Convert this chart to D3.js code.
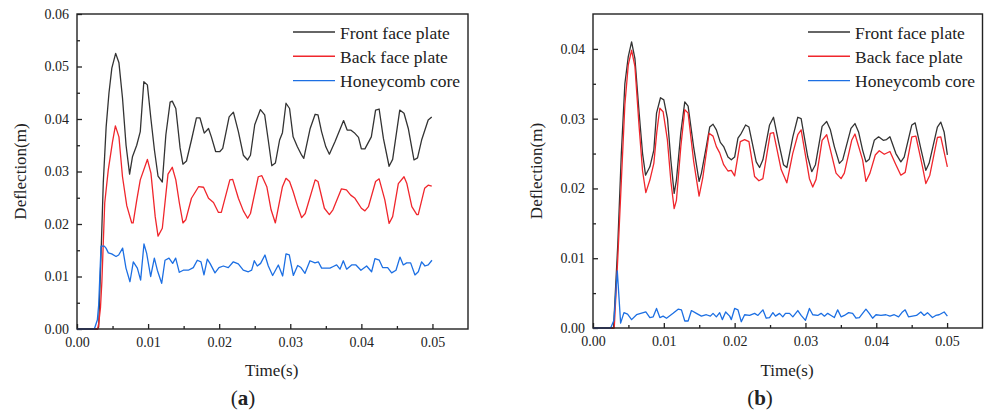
<!DOCTYPE html>
<html>
<head>
<meta charset="utf-8">
<script src="https://cdn.jsdelivr.net/npm/d3@7"></script>
<style>
  body { margin: 0; background: #fff; }
  text { font-family: "Liberation Serif", "DejaVu Serif", serif; fill: #222; }
</style>
</head>
<body>
<svg id="chart" width="984" height="416"></svg>
<script>
// time in ms, deflection in m
var frontA = [[0,0],[2.9,0],[3.05,0.0004],[3.4,0.015],[3.7,0.028],[4.1,0.0385],[4.5,0.045],[4.9,0.0497],[5.44,0.0525],[5.9,0.0507],[6.4,0.044],[6.9,0.035],[7.4,0.0295],[7.8,0.0328],[8.4,0.035],[8.9,0.0376],[9.4,0.0471],[9.9,0.0465],[10.4,0.040],[10.9,0.034],[11.4,0.0291],[12.0,0.028],[12.5,0.037],[13.1,0.0432],[13.4,0.0434],[13.9,0.042],[14.5,0.0345],[14.9,0.0314],[15.4,0.032],[16.1,0.036],[16.8,0.0402],[17.3,0.0402],[17.9,0.0373],[18.5,0.0382],[18.9,0.0366],[19.5,0.0338],[20.1,0.0338],[20.5,0.0344],[21.4,0.0404],[22.0,0.0413],[22.7,0.0376],[23.4,0.0331],[24.0,0.0322],[24.4,0.0331],[25.0,0.0389],[25.8,0.0418],[26.4,0.0408],[26.9,0.036],[27.4,0.0311],[27.9,0.0316],[28.5,0.036],[28.9,0.0374],[29.4,0.043],[29.9,0.042],[30.4,0.0366],[31.0,0.0347],[31.6,0.0331],[31.9,0.0325],[32.8,0.0382],[33.5,0.0409],[33.9,0.0408],[34.4,0.0376],[35.0,0.0347],[35.5,0.0333],[36.3,0.0357],[37.5,0.0397],[38.0,0.0379],[38.5,0.0379],[39.0,0.0374],[39.6,0.0365],[40.0,0.0343],[40.5,0.0343],[41.4,0.0366],[42.0,0.0417],[42.5,0.0419],[43.1,0.0363],[43.9,0.031],[44.4,0.0323],[45.4,0.0417],[46.0,0.0411],[46.6,0.0382],[47.4,0.0322],[47.9,0.0326],[48.5,0.0361],[49.4,0.0398],[49.9,0.0404]]

var backA = [[0,0],[2.9,0],[3.05,0.001],[3.3,0.004],[3.5,0.009],[3.9,0.024],[4.4,0.0303],[5.0,0.0357],[5.4,0.0387],[5.9,0.0366],[6.4,0.029],[7.0,0.0235],[7.7,0.0202],[7.9,0.0202],[8.4,0.0245],[8.9,0.0284],[9.9,0.0323],[10.4,0.0297],[11.0,0.0214],[11.4,0.0177],[12.0,0.0192],[12.8,0.0295],[13.4,0.0308],[13.9,0.0284],[14.4,0.024],[14.9,0.0202],[15.3,0.0208],[16.1,0.0249],[17.1,0.0271],[17.8,0.027],[18.5,0.0249],[19.2,0.0241],[19.9,0.0222],[20.3,0.0222],[21.5,0.0284],[21.9,0.0285],[22.7,0.0249],[23.4,0.0225],[24.0,0.0211],[24.4,0.022],[25.5,0.029],[26.0,0.0292],[26.7,0.0271],[27.3,0.0227],[27.9,0.0202],[28.9,0.0271],[29.4,0.0287],[29.9,0.0281],[30.4,0.0262],[31.0,0.0235],[31.6,0.0212],[32.1,0.022],[33.5,0.0284],[33.9,0.0281],[34.8,0.023],[35.5,0.0218],[36.0,0.0227],[37.2,0.0267],[37.9,0.0265],[38.5,0.0255],[39.1,0.0249],[40.0,0.023],[40.5,0.0225],[41.0,0.0233],[42.0,0.0281],[42.5,0.0286],[43.3,0.0246],[43.9,0.0201],[44.4,0.0214],[45.2,0.0277],[46.0,0.029],[46.4,0.0277],[47.1,0.0233],[47.8,0.0218],[48.0,0.0218],[48.9,0.0268],[49.4,0.0274],[49.9,0.0272]]

var coreA = [[0,0],[2.44,0],[2.86,0.0017],[3.05,0.0046],[3.38,0.0158],[3.84,0.0158],[4.08,0.0154],[4.41,0.0145],[4.88,0.0143],[5.49,0.0138],[5.86,0.0141],[6.42,0.0154],[6.89,0.0116],[7.45,0.009],[7.92,0.0128],[8.49,0.0116],[8.95,0.0093],[9.42,0.0162],[9.8,0.0144],[10.36,0.01],[10.88,0.0135],[11.3,0.0112],[11.91,0.0087],[12.38,0.0131],[12.94,0.0135],[13.46,0.0125],[13.88,0.0135],[14.39,0.0108],[14.95,0.0112],[15.66,0.0112],[16.36,0.0117],[16.92,0.0131],[17.44,0.0128],[17.86,0.0103],[18.33,0.0133],[18.71,0.0125],[19.41,0.0107],[19.97,0.0117],[20.58,0.012],[21.28,0.0117],[21.99,0.0128],[22.69,0.0124],[23.39,0.0112],[24.1,0.0109],[24.57,0.0112],[24.94,0.013],[25.36,0.012],[25.83,0.0125],[26.44,0.0141],[26.91,0.012],[27.52,0.0102],[28.32,0.0122],[28.93,0.0101],[29.4,0.0143],[29.86,0.0141],[30.43,0.0102],[31.04,0.0121],[31.5,0.0117],[32.07,0.0106],[32.77,0.013],[33.47,0.0126],[33.94,0.0128],[34.41,0.0116],[35.58,0.0116],[36.05,0.0119],[36.52,0.0122],[36.99,0.0114],[37.46,0.013],[37.93,0.0114],[38.63,0.0122],[39.24,0.0122],[39.94,0.0112],[40.74,0.012],[41.44,0.0109],[41.91,0.0134],[42.52,0.0131],[42.99,0.0117],[43.7,0.0117],[44.26,0.0107],[44.87,0.0112],[45.43,0.0137],[45.9,0.0122],[46.37,0.0126],[46.93,0.0126],[47.54,0.0103],[48.01,0.0109],[48.48,0.0128],[48.95,0.012],[49.41,0.0122],[49.93,0.0131]]

var frontB = [[0,0],[2.9,0],[3.5,0.012],[4.0,0.025],[4.5,0.035],[4.98,0.0389],[5.45,0.041],[5.92,0.0386],[6.5,0.031],[7.0,0.025],[7.42,0.0219],[8.03,0.0231],[8.59,0.0255],[8.97,0.0308],[9.53,0.033],[10.0,0.0327],[10.52,0.030],[11.0,0.024],[11.46,0.0193],[11.78,0.0212],[12.4,0.028],[12.96,0.0324],[13.43,0.0318],[14.2,0.026],[14.98,0.021],[15.31,0.0222],[16.0,0.026],[16.48,0.0288],[16.95,0.0292],[17.42,0.0284],[17.98,0.0266],[18.45,0.026],[19.06,0.0245],[19.53,0.0241],[20.0,0.0245],[20.47,0.0272],[20.94,0.0279],[21.55,0.0291],[22.02,0.0288],[23.05,0.0238],[23.52,0.023],[23.99,0.0241],[24.93,0.0291],[25.49,0.0302],[26.24,0.0265],[26.9,0.0234],[27.37,0.023],[28.22,0.0274],[28.92,0.0302],[29.39,0.030],[30.33,0.0245],[30.89,0.0224],[31.41,0.0234],[32.35,0.0289],[33.0,0.0296],[33.52,0.0284],[34.08,0.026],[34.79,0.0236],[35.26,0.0241],[36.43,0.0286],[36.99,0.0293],[37.5,0.0281],[38.07,0.0255],[38.54,0.0238],[39.01,0.0242],[39.72,0.0269],[40.33,0.0274],[40.99,0.0269],[41.45,0.027],[41.93,0.0274],[42.77,0.025],[43.47,0.0238],[43.94,0.0245],[45.02,0.0291],[45.49,0.0294],[46.29,0.0257],[47.0,0.0226],[47.46,0.0236],[48.63,0.0288],[49.11,0.0295],[49.58,0.0281],[50.04,0.0248]]

var backB = [[0,0],[3.0,0],[3.5,0.01],[4.0,0.021],[4.5,0.032],[4.98,0.0377],[5.45,0.0398],[5.92,0.0375],[6.5,0.029],[7.0,0.0225],[7.46,0.0194],[8.03,0.0212],[8.59,0.0236],[9.0,0.028],[9.44,0.0315],[9.9,0.031],[10.5,0.027],[11.0,0.021],[11.46,0.0171],[11.78,0.0183],[12.4,0.026],[12.96,0.0313],[13.43,0.0308],[14.2,0.024],[14.98,0.0189],[15.5,0.0215],[16.39,0.0279],[16.95,0.0275],[17.42,0.026],[17.89,0.0251],[18.45,0.0234],[19.06,0.0225],[19.53,0.0226],[20.0,0.0218],[20.8,0.0267],[21.41,0.027],[22.02,0.0267],[22.82,0.0217],[23.43,0.0211],[23.99,0.0214],[25.03,0.0279],[25.49,0.028],[26.57,0.0227],[27.37,0.0208],[28.2,0.025],[28.92,0.0277],[29.39,0.0284],[30.56,0.0214],[31.03,0.0202],[31.5,0.0213],[32.35,0.0269],[33.0,0.0277],[34.32,0.0222],[35.03,0.0214],[35.49,0.0222],[36.53,0.0269],[36.99,0.0278],[38.07,0.0241],[38.54,0.021],[39.11,0.0222],[39.86,0.0248],[40.42,0.0254],[41.13,0.0249],[41.93,0.0253],[42.77,0.0234],[43.47,0.0219],[44.08,0.0223],[45.02,0.0274],[45.59,0.0275],[46.53,0.0231],[47.0,0.0207],[47.56,0.0219],[48.63,0.0273],[49.11,0.0274],[50.04,0.0231]]

var coreB = [[0,0],[2.49,0],[2.96,0.0011],[3.43,0.0082],[3.9,0.0007],[4.37,0.0022],[4.88,0.002],[5.45,0.0012],[6.15,0.0019],[7.46,0.0023],[8.03,0.0015],[8.5,0.0016],[8.97,0.0028],[9.44,0.0015],[9.9,0.0017],[10.38,0.0014],[11.31,0.0021],[12.02,0.0027],[12.49,0.0026],[12.96,0.001],[13.43,0.001],[13.9,0.0025],[14.6,0.0021],[15.31,0.0017],[16.01,0.0019],[16.57,0.0017],[16.95,0.0021],[17.42,0.0016],[17.89,0.0022],[18.26,0.0012],[18.73,0.0023],[19.3,0.0017],[19.53,0.0012],[20.0,0.0028],[20.47,0.0026],[20.94,0.0009],[21.41,0.0019],[22.11,0.0018],[22.82,0.0021],[23.29,0.0018],[23.99,0.0026],[24.46,0.0014],[24.93,0.0015],[25.4,0.0022],[25.77,0.0017],[26.34,0.0021],[26.8,0.0016],[27.18,0.0021],[27.75,0.0021],[28.22,0.0016],[28.92,0.0025],[29.39,0.0018],[30.0,0.0011],[30.56,0.0028],[31.03,0.0019],[31.74,0.0018],[32.21,0.0021],[32.68,0.0017],[33.14,0.0021],[33.62,0.0018],[34.08,0.0015],[34.55,0.0026],[35.03,0.0016],[35.49,0.0018],[36.1,0.0022],[36.66,0.0021],[37.14,0.0014],[37.61,0.0015],[38.07,0.0021],[38.54,0.0027],[39.01,0.0021],[39.48,0.0014],[39.96,0.0019],[40.66,0.0018],[41.37,0.0019],[41.93,0.0017],[42.54,0.0019],[43.15,0.0016],[43.7,0.0023],[44.08,0.0026],[44.55,0.0016],[45.11,0.0017],[45.68,0.0018],[46.29,0.0023],[46.76,0.0018],[47.23,0.0022],[47.93,0.0015],[48.4,0.0018],[48.87,0.0019],[49.58,0.0023],[50.04,0.0017]]

var seriesNames = ['Front face plate', 'Back face plate', 'Honeycomb core']
var seriesColors = ['#333333', '#f0262c', '#1c6fe3']
var xTicks = [0, 0.01, 0.02, 0.03, 0.04, 0.05]
var yTicksA = [0, 0.01, 0.02, 0.03, 0.04, 0.05, 0.06]
var yTicksB = [0, 0.01, 0.02, 0.03, 0.04]

var svg = d3.select('#chart')
var fmt = d3.format('.2f')

function drawPanel (p) {
  var x = d3.scaleLinear().domain([0, 0.055]).range([p.left, p.right])
  var y = d3.scaleLinear().domain([0, p.ymax]).range([p.bottom, p.top])
  var g = svg.append('g')

  // minor ticks (no labels)
  var minorX = d3.range(0.005, 0.055, 0.01)
  var minorY = d3.range(0.005, p.ymax, 0.01)
  g.append('g').attr('transform', 'translate(0,' + p.bottom + ')')
    .call(d3.axisBottom(x).tickValues(minorX).tickSizeInner(-3).tickSizeOuter(0).tickFormat(''))
  g.append('g').attr('transform', 'translate(' + p.left + ',0)')
    .call(d3.axisLeft(y).tickValues(minorY).tickSizeInner(-3).tickSizeOuter(0).tickFormat(''))

  g.append('g').attr('transform', 'translate(0,' + p.bottom + ')')
    .call(d3.axisBottom(x).tickValues(xTicks).tickSizeInner(-5).tickSizeOuter(0).tickPadding(8).tickFormat(fmt))
  g.append('g').attr('transform', 'translate(' + p.left + ',0)')
    .call(d3.axisLeft(y).tickValues(p.yTicks).tickSizeInner(-5).tickSizeOuter(0).tickPadding(8).tickFormat(fmt))
  g.selectAll('.domain').remove()
  g.selectAll('.tick line').attr('stroke', '#222').attr('stroke-width', 1.3)
  g.selectAll('.tick text').style('font-family', '"Liberation Serif", serif').style('font-size', '14px').attr('fill', '#222')

  // curves
  var line = d3.line().x(function (d) { return x(d[0] / 1000) }).y(function (d) { return y(d[1]) })
  p.series.forEach(function (s, i) {
    g.append('path').datum(s)
      .attr('fill', 'none')
      .attr('stroke', seriesColors[i])
      .attr('stroke-width', 1.3)
      .attr('stroke-linejoin', 'round')
      .attr('d', line)
  })

  // frame
  g.append('rect')
    .attr('x', p.left).attr('y', p.top)
    .attr('width', p.right - p.left).attr('height', p.bottom - p.top)
    .attr('fill', 'none').attr('stroke', '#222').attr('stroke-width', 1.4)

  // legend
  seriesNames.forEach(function (n, i) {
    var ly = 32 + i * 24.3
    g.append('line').attr('x1', p.legX).attr('x2', p.legX + 42)
      .attr('y1', ly).attr('y2', ly)
      .attr('stroke', seriesColors[i]).attr('stroke-width', 1.4)
    g.append('text').attr('x', p.legX + 47).attr('y', ly + 6.5)
      .style('font-size', '17.5px').text(n)
  })

  // axis titles
  g.append('text').attr('x', (x(0) + x(0.05)) / 2 + 17).attr('y', 376)
    .attr('text-anchor', 'middle').style('font-size', '17px').text('Time(s)')
  g.append('text')
    .attr('transform', 'translate(' + p.titleX + ',' + ((p.top + p.bottom) / 2) + ') rotate(-90)')
    .attr('text-anchor', 'middle').style('font-size', '17px').text('Deflection(m)')

  var lab = g.append('text').attr('x', p.labX).attr('y', 405)
    .attr('text-anchor', 'middle').style('font-size', '21px')
  lab.append('tspan').text('(')
  lab.append('tspan').style('font-weight', 'bold').text(p.label)
  lab.append('tspan').text(')')
}

drawPanel({ left: 77, right: 468, top: 14, bottom: 329, ymax: 0.06, yTicks: yTicksA,
  series: [frontA, backA, coreA], legX: 293, titleX: 26, labX: 243, label: 'a' })
drawPanel({ left: 593, right: 982.5, top: 14, bottom: 328, ymax: 0.045, yTicks: yTicksB,
  series: [frontB, backB, coreB], legX: 808, titleX: 542, labX: 760, label: 'b' })
</script>
</body>
</html>
